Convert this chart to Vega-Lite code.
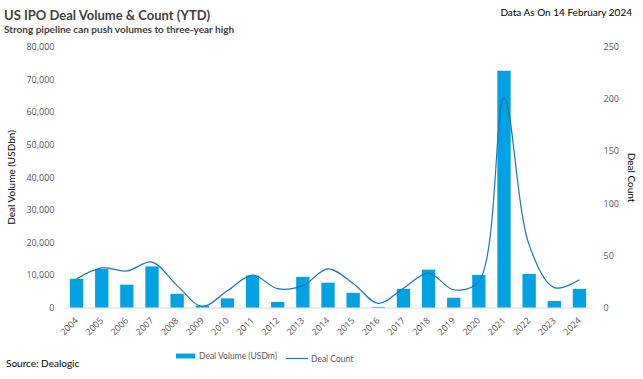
{
  "$schema": "https://vega.github.io/schema/vega-lite/v6.json",
  "width": 528,
  "height": 261,
  "autosize": {"type": "none"},
  "padding": {"left": 64, "top": 46.5, "right": 51, "bottom": 71.5},
  "background": "white",
  "config": {
    "view": {"stroke": null},
    "font": "Lato",
    "axis": {"grid": false, "ticks": false, "domain": false, "labelFont": "Open Sans", "labelFontSize": 9, "labelColor": "#595959", "titleFont": "Lato", "titleFontSize": 10, "titleFontWeight": "normal", "titleColor": "#000000"},
    "legend": {"padding": 0, "labelFont": "Lato", "labelFontSize": 8.5, "labelColor": "#595959", "title": null}
  },
  "title": {
    "text": "US IPO Deal Volume & Count (YTD)",
    "subtitle": "Strong pipeline can push volumes to three-year high",
    "anchor": "start",
    "frame": "group",
    "dx": -60,
    "dy": 40,
    "offset": 13,
    "font": "Lato",
    "fontSize": 13,
    "fontWeight": "bold",
    "color": "#404040",
    "subtitleFont": "Lato",
    "subtitleFontSize": 10,
    "subtitleFontWeight": "bold",
    "subtitleColor": "#404040",
    "subtitlePadding": 2
  },
  "data": {
    "values": [
      {"year": "2004", "volume": 8800, "count": 27.5},
      {"year": "2005", "volume": 11800, "count": 38},
      {"year": "2006", "volume": 7000, "count": 35},
      {"year": "2007", "volume": 12600, "count": 43.5},
      {"year": "2008", "volume": 4200, "count": 21},
      {"year": "2009", "volume": 600, "count": 1},
      {"year": "2010", "volume": 2800, "count": 16},
      {"year": "2011", "volume": 9800, "count": 31},
      {"year": "2012", "volume": 1700, "count": 18},
      {"year": "2013", "volume": 9400, "count": 21},
      {"year": "2014", "volume": 7600, "count": 37},
      {"year": "2015", "volume": 4500, "count": 23},
      {"year": "2016", "volume": 200, "count": 4},
      {"year": "2017", "volume": 5700, "count": 18.5},
      {"year": "2018", "volume": 11600, "count": 33},
      {"year": "2019", "volume": 3000, "count": 17},
      {"year": "2020", "volume": 10000, "count": 25},
      {"year": "2021", "volume": 72600, "count": 201},
      {"year": "2022", "volume": 10300, "count": 60},
      {"year": "2023", "volume": 2000, "count": 19},
      {"year": "2024", "volume": 5700, "count": 26.5}
    ]
  },
  "layer": [
    {
      "mark": {"type": "bar"},
      "encoding": {
        "x": {"field": "year", "type": "nominal", "scale": {"paddingInner": 0.47, "paddingOuter": 0.235},
              "axis": {"labelAngle": -45, "labelAlign": "right", "labelBaseline": "middle", "domain": true, "domainColor": "#d9d9d9", "domainWidth": 1, "labelPadding": 11, "title": null}},
        "y": {"field": "volume", "type": "quantitative", "scale": {"domain": [0, 80000]},
              "axis": {"values": [0, 10000, 20000, 30000, 40000, 50000, 60000, 70000, 80000], "format": ",d", "title": "Deal Volume (USDbn)", "labelPadding": 10, "titlePadding": 9}},
        "fill": {"datum": "Deal Volume (USDm)", "type": "nominal", "scale": {"range": ["#00A2E3"]},
                 "legend": {"orient": "none", "legendX": 112, "legendY": 300, "symbolType": "M-1,-0.26L1,-0.26L1,0.26L-1,0.26Z", "symbolSize": 361, "symbolStrokeWidth": 0}}
      }
    },
    {
      "mark": {"type": "line", "interpolate": "catmull-rom", "strokeWidth": 1.2},
      "encoding": {
        "x": {"field": "year", "type": "nominal"},
        "y": {"field": "count", "type": "quantitative", "scale": {"domain": [0, 250]},
              "axis": {"orient": "right", "values": [0, 50, 100, 150, 200, 250], "title": "Deal Count", "labelPadding": 11, "titlePadding": 7}},
        "stroke": {"datum": "Deal Count", "type": "nominal", "scale": {"range": ["#1B75BB"]},
                   "legend": {"orient": "none", "legendX": 221, "legendY": 300, "symbolType": "stroke", "symbolSize": 484, "symbolStrokeWidth": 1.2, "labelOffset": 2}}
      }
    },
    {
      "data": {"values": [{"t": "Source: Dealogic"}]},
      "mark": {"type": "text", "align": "left", "baseline": "middle", "font": "Lato", "fontSize": 10, "color": "#000000"},
      "encoding": {"text": {"field": "t"}, "x": {"value": -58}, "y": {"value": 317.5}}
    },
    {
      "data": {"values": [{"t": "Data As On 14 February 2024"}]},
      "mark": {"type": "text", "align": "right", "baseline": "middle", "font": "Lato", "fontSize": 10, "color": "#000000"},
      "encoding": {"text": {"field": "t"}, "x": {"value": 568}, "y": {"value": -33.5}}
    }
  ],
  "resolve": {"scale": {"y": "independent", "fill": "independent", "stroke": "independent"}}
}
